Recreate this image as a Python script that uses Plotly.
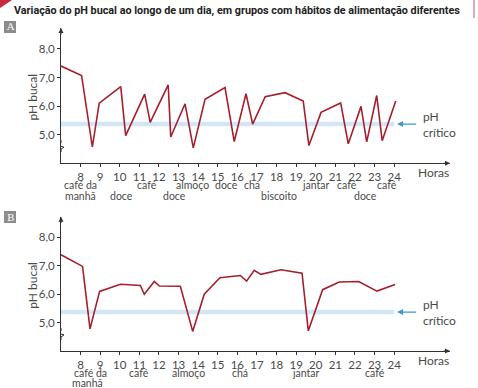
import plotly.graph_objects as go

# ---------------- data ----------------
hours_A = [7.0, 8.05, 8.6, 8.95, 10.05, 10.3, 11.27, 11.55, 12.47, 12.6, 13.33, 13.75, 14.35,
           15.37, 15.84, 16.44, 16.78, 17.42, 18.43, 19.36, 19.65, 20.27, 21.27, 21.66, 22.31,
           22.6, 23.11, 23.39, 24.08]
ph_A = [7.40, 7.07, 4.57, 6.10, 6.68, 4.97, 6.42, 5.43, 6.74, 4.92, 6.08, 4.54, 6.24,
        6.65, 4.76, 6.43, 5.37, 6.33, 6.47, 6.18, 4.62, 5.78, 6.11, 4.68, 5.99,
        4.75, 6.37, 4.79, 6.18]

hours_B = [7.0, 8.1, 8.48, 8.97, 10.03, 11.05, 11.25, 11.76, 12.02, 13.09, 13.72, 14.31, 15.11,
           16.15, 16.47, 16.86, 17.2, 18.22, 19.3, 19.62, 20.35, 21.2, 22.19, 23.12, 24.05]
ph_B = [7.39, 6.98, 4.78, 6.10, 6.35, 6.31, 6.0, 6.45, 6.29, 6.28, 4.69, 6.0, 6.58,
        6.66, 6.46, 6.84, 6.70, 6.86, 6.74, 4.71, 6.16, 6.43, 6.45, 6.11, 6.34]

ph_critico = 5.37

x_ticks = list(range(8, 25))
y_ticks = [5, 6, 7, 8]
y_ticktext = ["5,0", "6,0", "7,0", "8,0"]

meals_A_row1 = [("café da", 8.0), ("café", 11.4), ("almoço", 13.73), ("doce", 15.47),
                ("chá", 16.74), ("jantar", 20.0), ("café", 21.6), ("café", 23.63)]
meals_A_row2 = [("manhã", 8.0), ("doce", 10.11), ("doce", 12.8), ("biscoito", 18.12),
                ("doce", 22.56)]
meals_B_row1 = [("café da", 8.5), ("café", 10.98), ("almoço", 13.53), ("chá", 16.13),
                ("jantar", 19.5), ("café", 23.02)]
meals_B_row2 = [("manhã", 8.33)]

title = "Variação do pH bucal ao longo de um dia, em grupos com hábitos de alimentação diferentes"

# ---------------- layout helpers ----------------
W, H = 478, 388
def px(x):
    return x / W
def py(y):
    return 1 - y / H

X_RANGE = [7, 26.85]
Y_RANGE = [4.0, 8.73]
RED = "#a51f2d"
BAND = "#d3e6f5"
AXC = "#333333"
TXT = "#4a4a4a"
FONT = "Lato"
FS = 10.5

fig = go.Figure()

panels = [
    dict(x="x", y="y", hours=hours_A, ph=ph_A, top=28, bottom=163.3,
         tick_y=172, r1=184.5, r2=196.3, row1=meals_A_row1, row2=meals_A_row2,
         label="A", box=(4, 21, 16, 33)),
    dict(x="x2", y="y2", hours=hours_B, ph=ph_B, top=216.7, bottom=351,
         tick_y=360, r1=372.7, r2=382.5, row1=meals_B_row1, row2=meals_B_row2,
         label="B", box=(4, 211, 16, 223)),
]

annotations = []
shapes = []
tfont = dict(family=FONT, size=FS, color=TXT)

for i, p in enumerate(panels):
    fig.add_trace(go.Scatter(x=[7, 24], y=[ph_critico, ph_critico], mode="lines",
                             line=dict(color=BAND, width=4.5), xaxis=p["x"], yaxis=p["y"],
                             hoverinfo="skip", showlegend=False))
    fig.add_trace(go.Scatter(x=p["hours"], y=p["ph"], mode="lines",
                             line=dict(color=RED, width=1.6), xaxis=p["x"], yaxis=p["y"],
                             showlegend=False))
    axis_common = dict(showline=True, linecolor=AXC, linewidth=1, showgrid=False,
                       zeroline=False, ticks="outside", ticklen=3, tickcolor=AXC,
                       tickfont=dict(family=FONT, size=11.5, color=TXT))
    xname = "xaxis" if i == 0 else "xaxis2"
    yname = "yaxis" if i == 0 else "yaxis2"
    dom_y = [py(p["bottom"]), py(p["top"])]
    fig.update_layout(**{
        xname: dict(axis_common, range=X_RANGE, domain=[px(61), px(450)],
                    tickvals=x_ticks, anchor=p["y"]),
        yname: dict(axis_common, range=Y_RANGE, domain=dom_y,
                    tickvals=y_ticks, ticktext=y_ticktext, anchor=p["x"]),
    })
    annotations.append(dict(x=X_RANGE[1], y=Y_RANGE[0], xref=p["x"], yref=p["y"], text="",
                            showarrow=True, ax=-8, ay=0, arrowhead=2, arrowsize=1,
                            arrowwidth=1, arrowcolor=AXC, standoff=0))
    annotations.append(dict(x=7, y=Y_RANGE[1], xref=p["x"], yref=p["y"], text="",
                            showarrow=True, ax=0, ay=8, arrowhead=2, arrowsize=1,
                            arrowwidth=1, arrowcolor=AXC, standoff=0))
    annotations.append(dict(x=24.15, y=ph_critico, xref=p["x"], yref=p["y"], text="",
                            showarrow=True, ax=25.2, ay=ph_critico, axref=p["x"], ayref=p["y"],
                            arrowhead=2, arrowsize=1, arrowwidth=1.2, arrowcolor="#3a9cc6",
                            standoff=0))
    annotations.append(dict(x=25.35, y=ph_critico, xref=p["x"], yref=p["y"],
                            text="pH<br>crítico", showarrow=False, xanchor="left",
                            yanchor="middle", align="left", font=dict(tfont, size=12)))
    annotations.append(dict(x=px(33), y=(dom_y[0] + dom_y[1]) / 2 - 0.005, xref="paper",
                            yref="paper", text="pH bucal", textangle=-90, showarrow=False,
                            xanchor="center", yanchor="middle",
                            font=dict(tfont, size=12)))
    annotations.append(dict(x=26.0, y=py(p["tick_y"]), xref=p["x"], yref="paper",
                            text="Horas", showarrow=False, yanchor="middle",
                            font=dict(tfont, size=12)))
    for txt, h in p["row1"]:
        annotations.append(dict(x=h, y=py(p["r1"]), xref=p["x"], yref="paper", text=txt,
                                showarrow=False, yanchor="middle", font=tfont, borderpad=0))
    for txt, h in p["row2"]:
        annotations.append(dict(x=h, y=py(p["r2"]), xref=p["x"], yref="paper", text=txt,
                                showarrow=False, yanchor="middle", font=tfont, borderpad=0))
    x0, y0, x1, y1 = p["box"]
    shapes.append(dict(type="rect", xref="paper", yref="paper", x0=px(x0), x1=px(x1),
                       y0=py(y1), y1=py(y0), fillcolor="#8c8c8c", line=dict(width=0)))
    annotations.append(dict(x=px((x0 + x1) / 2), y=py((y0 + y1) / 2), xref="paper",
                            yref="paper", text=p["label"], showarrow=False,
                            font=dict(family="DejaVu Serif", size=10, color="white"),
                            xanchor="center", yanchor="middle"))
    shapes.append(dict(type="rect", xref=p["x"], yref=p["y"], xsizemode="pixel",
                       ysizemode="pixel", xanchor=7, yanchor=4.6, x0=-1.5, x1=1.5,
                       y0=-3, y1=3, fillcolor="white", line=dict(width=0)))
    shapes.append(dict(type="path", xref=p["x"], yref=p["y"], xsizemode="pixel",
                       ysizemode="pixel", xanchor=7, yanchor=4.6,
                       path="M 0,6 L 0,3 L -4,1 L 3,-1 L 0,-3 L 0,-6",
                       line=dict(color=AXC, width=1)))

shapes.append(dict(type="path", xref="paper", yref="paper",
                   path=f"M 0,1 L {px(12)},1 L 0,{py(8)} Z", fillcolor="#c8283c",
                   line=dict(width=0)))
shapes.append(dict(type="line", xref="paper", yref="paper", x0=px(474), x1=px(474),
                   y0=py(0), y1=py(18), line=dict(color="#e7a9b3", width=2)))
annotations.append(dict(x=px(12), y=py(10), xref="paper", yref="paper", text=title,
                        showarrow=False, xanchor="left", yanchor="middle",
                        font=dict(family="Roboto", size=10.8, color="#222", weight="bold")))

fig.update_layout(width=W, height=H, margin=dict(l=0, r=0, t=0, b=0),
                  paper_bgcolor="white", plot_bgcolor="white",
                  annotations=annotations, shapes=shapes, showlegend=False)

fig.write_html("out.html", config={"displayModeBar": False},
               post_script="document.body.style.margin='0';")
